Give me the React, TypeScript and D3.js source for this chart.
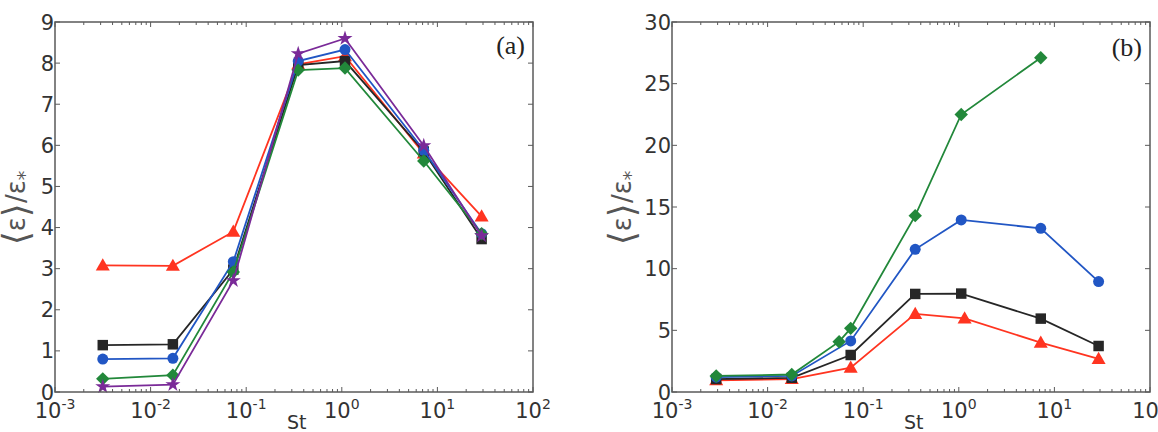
import * as d3 from 'd3';

// Stokes numbers (x positions)
const stA = [0.00316, 0.0171, 0.0733, 0.35, 1.08, 7.2, 29];
const redA = [3.08, 3.07, 3.9, 7.97, 8.17, 5.8, 4.27];
const blackA = [1.14, 1.16, 2.98, 7.95, 8.05, 5.85, 3.72];
const blueA = [0.8, 0.82, 3.17, 8.05, 8.33, 5.88, 3.85];
const greenA = [0.32, 0.41, 2.92, 7.83, 7.88, 5.62, 3.85];
const purpleA = [0.13, 0.18, 2.71, 8.23, 8.6, 5.99, 3.8];

const stB = [0.0029, 0.0179, 0.074, 0.35, 1.06, 7.2, 29];
const stRedB = [0.0029, 0.0179, 0.074, 0.35, 1.15, 7.2, 29];
const stGreenB = [0.0029, 0.0179, 0.056, 0.074, 0.35, 1.06, 7.2];
const redB = [0.95, 1.05, 1.97, 6.33, 5.97, 4.0, 2.68];
const blackB = [1.05, 1.15, 3.0, 7.95, 7.98, 5.95, 3.73];
const blueB = [1.2, 1.3, 4.14, 11.57, 13.95, 13.27, 8.95];
const greenB = [1.3, 1.42, 4.08, 5.16, 14.3, 22.5, 27.1];

const yTicksA = [0, 1, 2, 3, 4, 5, 6, 7, 8, 9];
const yTicksB = [0, 5, 10, 15, 20, 25, 30];
const decades = [-3, -2, -1, 0, 1, 2];

const RED = '#ff3420';
const BLACK = '#262626';
const BLUE = '#2156c4';
const GREEN = '#22883a';
const PURPLE = '#7a2a98';

const SANS = "'DejaVu Sans', 'Bitstream Vera Sans', sans-serif";
const SERIF = "'Liberation Serif', 'Times New Roman', serif";

type Marker = 'square' | 'circle' | 'triangle' | 'diamond' | 'star';

interface Series {
  x: number[];
  y: number[];
  color: string;
  marker: Marker;
}

const W = 478;
const H = 370;
const TOP = 22;

const symbolPath = (m: Marker) => {
  switch (m) {
    case 'square':
      return d3.symbol(d3.symbolSquare, 110)() as string;
    case 'circle':
      return d3.symbol(d3.symbolCircle, 95)() as string;
    case 'triangle':
      return d3.symbol(d3.symbolTriangle, 85)() as string;
    case 'diamond':
      return d3.symbol(d3.symbolSquare, 90)() as string;
    case 'star':
      return d3.symbol(d3.symbolStar, 70)() as string;
  }
};

const Panel = ({
  left,
  yMax,
  yTicks,
  series,
  tag,
  tagY,
  labelX,
}: {
  left: number;
  yMax: number;
  yTicks: number[];
  series: Series[];
  tag: string;
  tagY: number;
  labelX: number;
}) => {
  const x = d3.scaleLog().domain([1e-3, 1e2]).range([0, W]);
  const y = d3.scaleLinear().domain([0, yMax]).range([H, 0]);
  const line = d3
    .line<[number, number]>()
    .x(d => x(d[0]))
    .y(d => y(d[1]));

  const minors: number[] = [];
  decades.slice(0, -1).forEach(e => {
    for (let k = 2; k <= 9; k++) minors.push(k * Math.pow(10, e));
  });

  const axisColor = '#5a5a5a';
  const textColor = '#333';

  return (
    <g transform={`translate(${left},${TOP})`}>
      {series.map((s, i) => {
        const pts = s.x.map((v, j) => [v, s.y[j]] as [number, number]);
        return (
          <g key={i}>
            <path d={line(pts) as string} fill="none" stroke={s.color} strokeWidth={1.8} />
            {pts.map((p, j) => (
              <path
                key={j}
                d={symbolPath(s.marker)}
                fill={s.color}
                transform={`translate(${x(p[0])},${y(p[1])})${s.marker === 'diamond' ? ' rotate(45)' : ''}${
                  s.marker === 'triangle' ? ' translate(0,1)' : ''
                }`}
              />
            ))}
          </g>
        );
      })}

      <rect x={0} y={0} width={W} height={H} fill="none" stroke={axisColor} strokeWidth={1.5} />

      {decades.map(e => (
        <g key={e}>
          <line x1={x(Math.pow(10, e))} x2={x(Math.pow(10, e))} y1={H} y2={H - 5} stroke={axisColor} />
          <line x1={x(Math.pow(10, e))} x2={x(Math.pow(10, e))} y1={0} y2={5} stroke={axisColor} />
          <text
            x={x(Math.pow(10, e))}
            y={H + 26}
            textAnchor="middle"
            style={{ fontFamily: SANS, fontSize: 21 }}
            fill={textColor}
          >
            10
            <tspan dy={-9} style={{ fontSize: 14 }}>
              {e}
            </tspan>
          </text>
        </g>
      ))}
      {minors.map((m, i) => (
        <g key={`m${i}`}>
          <line x1={x(m)} x2={x(m)} y1={H} y2={H - 3} stroke={axisColor} />
          <line x1={x(m)} x2={x(m)} y1={0} y2={3} stroke={axisColor} />
        </g>
      ))}

      {yTicks.map(t => (
        <g key={t}>
          <line x1={0} x2={5} y1={y(t)} y2={y(t)} stroke={axisColor} />
          <line x1={W} x2={W - 5} y1={y(t)} y2={y(t)} stroke={axisColor} />
          <text
            x={-1}
            y={y(t)}
            dy="0.36em"
            textAnchor="end"
            style={{ fontFamily: SANS, fontSize: 21 }}
            fill={textColor}
          >
            {t}
          </text>
        </g>
      ))}

      <text x={232} y={H + 37} style={{ fontFamily: SANS, fontSize: 19 }} fill={textColor}>
        St
      </text>

      <text
        transform={`translate(${labelX},${186}) rotate(-90)`}
        textAnchor="middle"
        style={{ fontFamily: SANS, fontSize: 26 }}
        fill="#555"
      >
        <tspan style={{ fontSize: 36 }} dy={3}>{'\u27E8'}</tspan>
        <tspan dy={-3}>ε</tspan>
        <tspan style={{ fontSize: 36 }} dy={3}>{'\u27E9'}</tspan>
        <tspan dy={-3}>/ε</tspan>
        <tspan dy={6} style={{ fontSize: 19 }}>
          *
        </tspan>
      </text>

      <text x={W - 8} y={tagY} textAnchor="end" style={{ fontFamily: SERIF, fontSize: 26 }} fill="#222">
        {tag}
      </text>
    </g>
  );
};

const App = () => {
  const seriesA: Series[] = [
    { x: stA, y: redA, color: RED, marker: 'triangle' },
    { x: stA, y: blackA, color: BLACK, marker: 'square' },
    { x: stA, y: blueA, color: BLUE, marker: 'circle' },
    { x: stA, y: greenA, color: GREEN, marker: 'diamond' },
    { x: stA, y: purpleA, color: PURPLE, marker: 'star' },
  ];
  const seriesB: Series[] = [
    { x: stRedB, y: redB, color: RED, marker: 'triangle' },
    { x: stB, y: blackB, color: BLACK, marker: 'square' },
    { x: stB, y: blueB, color: BLUE, marker: 'circle' },
    { x: stGreenB, y: greenB, color: GREEN, marker: 'diamond' },
  ];
  return (
    <svg
      width={1158}
      height={432}
      style={{ position: 'absolute', left: 0, top: 0, background: '#fff' }}
    >
      <Panel left={55} yMax={9} yTicks={yTicksA} series={seriesA} tag="(a)" tagY={32} labelX={-30} />
      <Panel left={672} yMax={30} yTicks={yTicksB} series={seriesB} tag="(b)" tagY={34} labelX={-41} />
    </svg>
  );
};

export default App;
